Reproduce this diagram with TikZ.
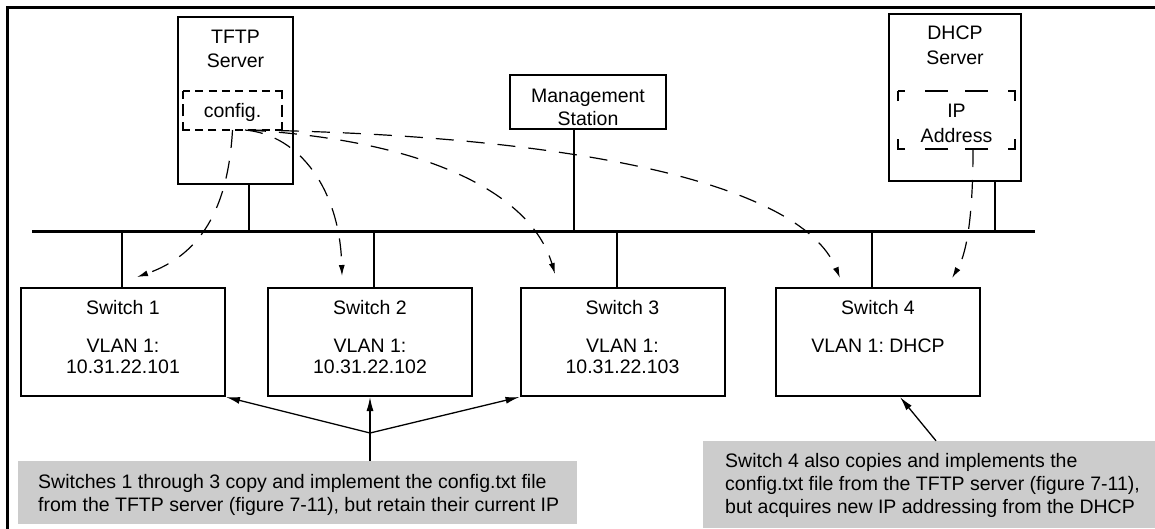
\documentclass[tikz,border=0pt]{standalone}
\usepackage{fontspec}
\setmainfont{Liberation Sans}
\usetikzlibrary{arrows.meta}
\frenchspacing

\begin{document}
\begin{tikzpicture}[x=1pt,y=-1pt,
  box/.style={draw,line width=2pt,inner sep=0pt},
  holder/.style={inner sep=0pt,outer sep=0pt},
  dashbox/.style={line width=2.4pt,line join=miter},
  note/.style={fill=black!20,inner sep=0pt},
  txt/.style={inner sep=0pt,anchor=base,font=\fontsize{19.5}{23}\selectfont},
  ntxt/.style={txt,anchor=base west},
  wire/.style={line width=2pt},
  bus/.style={line width=3pt},
  fetch/.style={line width=1.2pt,dash pattern=on 18pt off 13pt,-{Latex[length=11pt,width=6pt]}},
  point/.style={line width=1.3pt,-{Latex[length=14pt,width=7pt]}}]
\useasboundingbox (0,0) rectangle (1155,528);

%Frame
\draw [line width=3pt] (7.5,530) -- (7.5,7.5) -- (1160,7.5);

%Shape: TFTP server
\node [box,minimum width=115pt,minimum height=167pt] (tftp) at (235.5,100.5) {};
\node [holder,minimum width=99pt,minimum height=39pt] (cfg) at (232.5,110.5) {};
\draw [dashbox,dash pattern=on 15pt off 5.3pt on 8pt off 5.3pt on 8pt off 5.3pt on 8pt off 5.3pt on 8pt off 5.3pt on 8pt off 5.3pt on 8pt off 5.3pt on 15pt off 5.5pt on 12pt off 5.5pt,dash phase=8pt]
  (cfg.north west) -- (cfg.north east) -- (cfg.south east) -- (cfg.south west) -- cycle;
% Text Node
\node [txt] (tftpa) at (235.5,43) {TFTP};
\node [txt] (tftpb) at (235.5,67) {Server};
\node [txt] (cfgt) at (232.5,117) {config.};

%Shape: Management station
\node [box,minimum width=156pt,minimum height=54pt] (mgmt) at (588,102) {};
% Text Node
\node [txt] (mgmta) at (588,102) {Management};
\node [txt] (mgmtb) at (588,125) {Station};

%Shape: DHCP server
\node [box,minimum width=132pt,minimum height=167pt] (dhcp) at (955,97.5) {};
\node [holder,minimum width=117pt,minimum height=58pt] (ipbox) at (956.5,120) {};
\draw [dashbox,dash pattern=on 17pt off 20pt on 23pt off 17pt on 23pt off 20pt on 17pt off 38pt,dash phase=10pt]
  (ipbox.north west) -- (ipbox.north east) -- (ipbox.south east) -- (ipbox.south west) -- cycle;
% Text Node
\node [txt] (dhcpa) at (955,39) {DHCP};
\node [txt] (dhcpb) at (955,64) {Server};
\node [txt] (ipa) at (956.5,117) {IP};
\node [txt] (ipb) at (956.5,142) {Address};

%Straight Lines: bus
\coordinate (busL) at (32,231);
\coordinate (busR) at (1035,231);
\draw [bus] (busL) -- (busR);

%Shape: switches
\node [box,minimum width=204pt,minimum height=108pt] (sw1) at (123,342) {};
\node [box,minimum width=204pt,minimum height=108pt] (sw2) at (370,342) {};
\node [box,minimum width=204pt,minimum height=108pt] (sw3) at (622.5,342) {};
\node [box,minimum width=204pt,minimum height=108pt] (sw4) at (878,342) {};
% Text Node
\node [txt] (sw1a) at (123,314) {Switch 1};
\node [txt] (sw1b) at (123,352) {VLAN 1:};
\node [txt] (sw1c) at (123,373) {10.31.22.101};
\node [txt] (sw2a) at (370,314) {Switch 2};
\node [txt] (sw2b) at (370,352) {VLAN 1:};
\node [txt] (sw2c) at (370,373) {10.31.22.102};
\node [txt] (sw3a) at (622.5,314) {Switch 3};
\node [txt] (sw3b) at (622.5,352) {VLAN 1:};
\node [txt] (sw3c) at (622.5,373) {10.31.22.103};
\node [txt] (sw4a) at (878,314) {Switch 4};
\node [txt] (sw4b) at (878,352) {VLAN 1: DHCP};

%Straight Lines: drops to the bus
\draw [wire] (249,0 |- tftp.south) -- (249,0 |- busL);
\draw [wire] (574,0 |- mgmt.south) -- (574,0 |- busL);
\draw [wire] (995,0 |- dhcp.south) -- (995,0 |- busL);
\draw [wire] (122,0 |- busL) -- (122,0 |- sw1.north);
\draw [wire] (374,0 |- busL) -- (374,0 |- sw2.north);
\draw [wire] (617,0 |- busL) -- (617,0 |- sw3.north);
\draw [wire] (872,0 |- busL) -- (872,0 |- sw4.north);

%Curves: downloads
\coordinate (in1) at (137,277);
\coordinate (in2) at (342,276);
\coordinate (in3) at (555,274);
\coordinate (in4) at (840,278);
\coordinate (in5) at (952,278);
\draw [fetch] (cfg.south) .. controls (228,210) and (200,255) .. (in1);
\draw [fetch] (245,0 |- cfg.south) .. controls (300,135) and (340,190) .. (in2);
\draw [fetch] (248,0 |- cfg.south) .. controls (420,140) and (530,190) .. (in3);
\draw [fetch] (250,0 |- cfg.south) .. controls (560,135) and (800,180) .. (in4);
\draw [fetch] (973,0 |- ipbox.south) .. controls (973,220) and (966,255) .. (in5);

%Shape: notes
\node [note,minimum width=559pt,minimum height=63pt] (note1) at (297.5,492.5) {};
\node [note,minimum width=460pt,minimum height=87pt] (note2) at (933,484.5) {};
% Text Node
\node [ntxt] (n1a) at (38,488) {Switches 1 through 3 copy and implement the config.txt file};
\node [ntxt] (n1b) at (38,511) {from the TFTP server (figure 7-11), but retain their current IP};
\node [ntxt] (n2a) at (725,467) {Switch 4 also copies and implements the};
\node [ntxt] (n2b) at (725,490) {config.txt file from the TFTP server (figure 7-11),};
\node [ntxt] (n2c) at (725,513) {but acquires new IP addressing from the DHCP};

%Arrows: callouts
\coordinate (fork) at (370,433);
\draw [point] (note1.north -| sw2.south) -- (sw2.south);
\draw [point] (fork) -- (sw1.south east);
\draw [point] (fork) -- (sw3.south west);
\draw [point] (936,0 |- note2.north) -- (900,0 |- sw4.south);

\end{tikzpicture}
\end{document}
